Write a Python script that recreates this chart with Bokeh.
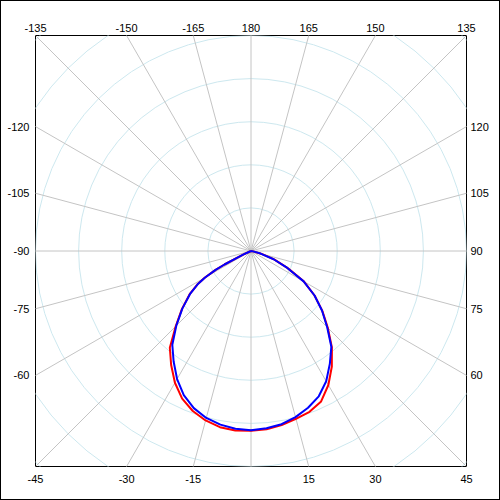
import numpy as np
from bokeh.plotting import figure
from bokeh.models import Range1d, LinearAxis, FixedTicker
from bokeh.embed import file_html
from bokeh.resources import INLINE

# ---- data (angle in degrees, 0 at bottom, positive to the right; radius in grid units) ----
blue_angle = [-180, -70, -66, -65, -64, -63, -62, -60, -58, -55, -50, -45, -40, -35, -30, -25, -20, -15, -10, -5,
              0, 5, 10, 15, 20, 25, 30, 35, 40, 45, 50, 55, 60, 65, 70, 75, 80, 85, 180]
blue_r = [0, 0, 0.7, 1.9, 4.0, 6.9, 9.3, 12.3, 14.6, 17.2, 20.8, 24.5, 28.4, 31.3, 34.3, 36.9, 38.8, 40.1, 40.9, 41.4,
          41.6, 41.3, 40.8, 39.9, 38.7, 37.2, 34.9, 31.9, 29.0, 25.0, 21.5, 18.0, 14.1, 9.3, 5.6, 2.3, 0.5, 0, 0]

red_angle = [-180, -70, -66, -65, -64, -63, -62, -60, -58, -55, -50, -45, -40, -35, -30, -25, -20, -15, -10, -5,
             0, 5, 10, 15, 20, 25, 30, 35, 40, 45, 50, 55, 60, 65, 70, 75, 80, 85, 180]
red_r = [0, 0, 0.7, 1.9, 4.0, 6.9, 9.3, 12.4, 14.7, 17.3, 20.9, 24.7, 29.3, 32.3, 35.3, 37.8, 39.5, 40.7, 41.5, 41.8,
         41.7, 41.5, 41.0, 40.3, 39.7, 38.5, 35.9, 32.7, 29.2, 25.2, 21.6, 18.0, 14.2, 9.4, 5.7, 2.4, 0.5, 0, 0]

grid_radii = [10, 20, 30, 40, 50, 60, 70]
spoke_angles = list(range(-180, 180, 15))

top_labels = [-135, -150, -165, 180, 165, 150, 135]
bottom_labels = [-45, -30, -15, 15, 30, 45]
left_labels = [-120, -105, -90, -75, -60]
right_labels = [120, 105, 90, 75, 60]

HALF = 50  # half width of the square frame in grid units

def pol2xy(ang, r):
    a = np.radians(np.asarray(ang, dtype=float))
    r = np.asarray(r, dtype=float)
    return r * np.sin(a), -r * np.cos(a)

p = figure(width=498, height=498, output_backend="svg", toolbar_location=None,
           x_range=Range1d(-HALF, HALF), y_range=Range1d(-HALF, HALF),
           x_axis_type=None, y_axis_type=None,
           min_border_left=34, min_border_right=33, min_border_top=34, min_border_bottom=33)
p.grid.visible = False
p.outline_line_color = "black"
p.outline_line_width = 1
p.background_fill_color = "white"
p.border_fill_color = "white"
p.styles = {"margin": "1px", "box-shadow": "0 0 0 1px black"}

# circles
p.circle(x=[0] * len(grid_radii), y=[0] * len(grid_radii), radius=grid_radii,
         fill_color=None, line_color="#cde8ef", line_width=1)

# spokes
sx, sy = pol2xy(spoke_angles, [90] * len(spoke_angles))
p.segment(x0=[0] * len(spoke_angles), y0=[0] * len(spoke_angles), x1=sx, y1=sy,
          line_color="#c4c4c4", line_width=1)

# curves
rx, ry = pol2xy(red_angle, red_r)
p.line(rx, ry, line_color="#ff0000", line_width=2)
bx, by = pol2xy(blue_angle, blue_r)
p.line(bx, by, line_color="#0000ff", line_width=2)

def edge_pos(labels, side):
    pos = []
    for a in labels:
        t = np.radians(a)
        if side == "below":
            v = HALF * np.tan(t)
        elif side == "above":
            v = -HALF * np.tan(t)
        elif side == "right":
            v = -HALF / np.tan(t)
        else:
            v = HALF / np.tan(t)
        v = round(float(v), 6)
        if v == 0:
            v = 0.0
        pos.append(v)
    return pos

def make_axis(labels, side, standoff):
    pos = edge_pos(labels, side)
    ax = LinearAxis(ticker=FixedTicker(ticks=pos),
                    major_label_overrides={v: str(l) for v, l in zip(pos, labels)})
    ax.axis_line_color = None
    ax.major_tick_line_color = None
    ax.minor_tick_line_color = None
    ax.major_tick_out = 0
    ax.major_tick_in = 0
    ax.major_label_standoff = standoff
    ax.major_label_text_font = "Liberation Sans"
    ax.major_label_text_font_size = "11px"
    ax.major_label_text_color = "black"
    p.add_layout(ax, side)

make_axis(top_labels, "above", 4)
make_axis(bottom_labels, "below", 8)
make_axis(left_labels, "left", 6)
make_axis(right_labels, "right", 4)

html = file_html(p, INLINE)
open("out.html", "w").write(html)
